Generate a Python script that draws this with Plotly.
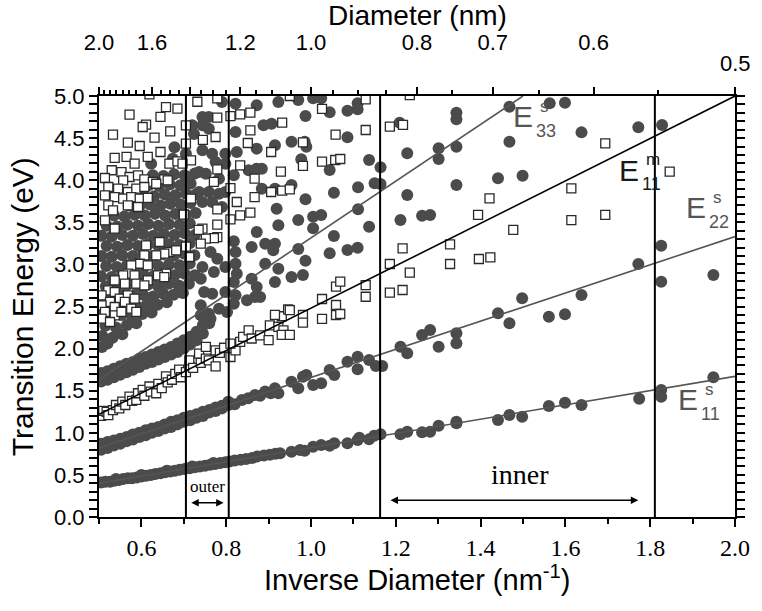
import plotly.graph_objects as go

# ---------------- semiconducting tubes (filled circles) ----------------
# E11 band, dense part at large diameter
e11s_dense = [(0.505,0.41),(0.515,0.42),(0.526,0.42),(0.536,0.43),(0.547,0.44),(0.557,0.45),(0.568,0.46),
              (0.578,0.46),(0.589,0.47),(0.600,0.48),(0.611,0.49),(0.622,0.50),(0.633,0.51),(0.645,0.52),
              (0.656,0.53),(0.668,0.54),(0.679,0.55),(0.690,0.56),(0.702,0.57),(0.714,0.58),(0.726,0.59),
              (0.738,0.60),(0.750,0.61),(0.762,0.62),(0.774,0.63),(0.786,0.64),(0.798,0.65),(0.808,0.66),
              (0.820,0.67),(0.834,0.68),(0.847,0.69),(0.861,0.70),(0.874,0.72),(0.889,0.73),(0.903,0.74),
              (0.916,0.75),(0.540,0.45),(0.600,0.50),(0.660,0.55),(0.720,0.60),(0.770,0.64)]
# E11 band, resolved tubes
e11s_sparse = [(0.927,0.757),(0.954,0.776),(0.974,0.796),(0.985,0.788),(1.005,0.835),(1.024,0.855),
               (1.044,0.847),(1.055,0.875),(1.086,0.875),(1.110,0.914),(1.114,0.942),(1.137,0.922),
               (1.149,0.966),(1.164,0.982),(1.211,0.982),(1.227,1.013),(1.262,1.006),(1.281,1.013),
               (1.301,1.084),(1.343,1.113),(1.343,1.130),(1.441,1.152),(1.468,1.211),(1.498,1.191),
               (1.561,1.318),(1.599,1.358),(1.638,1.330),(1.774,1.405),(1.826,1.508),(1.826,1.429),
               (1.949,1.659)]
# E22 band
e22s_dense = [(0.505,0.80),(0.505,0.87),(0.52,0.82),(0.52,0.89),(0.535,0.85),(0.535,0.91),(0.55,0.87),
              (0.55,0.93),(0.565,0.90),(0.565,0.95),(0.58,0.92),(0.58,0.98),(0.595,0.95),(0.595,1.00),
              (0.61,0.97),(0.61,1.03),(0.625,1.00),(0.625,1.05),(0.64,1.02),(0.64,1.07),(0.655,1.05),
              (0.655,1.10),(0.67,1.07),(0.67,1.13),(0.685,1.10),(0.685,1.15),(0.70,1.13),(0.70,1.18),
              (0.715,1.15),(0.715,1.20),(0.73,1.18),(0.73,1.22),(0.745,1.20),(0.745,1.25),(0.76,1.24),
              (0.76,1.27),(0.775,1.26),(0.775,1.30),(0.79,1.29),(0.79,1.32),(0.805,1.33),(0.805,1.37),
              (0.82,1.34),(0.837,1.39),(0.852,1.41),(0.868,1.45),(0.88,1.44),(0.892,1.49),(0.905,1.47),
              (0.915,1.53)]
e22s_sparse = [(0.923,1.469),(0.954,1.607),(0.970,1.528),(0.981,1.666),(0.989,1.686),(1.005,1.568),
               (1.024,1.588),(1.044,1.746),(1.055,1.686),(1.086,1.844),(1.110,1.904),(1.110,1.754),
               (1.137,1.865),(1.153,1.793),(1.168,1.793),(1.211,2.023),(1.227,1.944),(1.262,2.162),
               (1.281,2.221),(1.301,2.023),(1.343,2.182),(1.343,2.063),(1.441,2.419),(1.468,2.300),
               (1.498,2.597),(1.561,2.379),(1.599,2.407),(1.638,2.637),(1.772,3.005),(1.826,3.222),
               (1.826,2.795),(1.949,2.874)]
# E33 band at large diameter
e33s_band = [(0.505,1.61),(0.505,1.71),(0.52,1.63),(0.52,1.73),(0.535,1.66),(0.535,1.76),(0.55,1.69),
             (0.55,1.79),(0.565,1.72),(0.565,1.82),(0.58,1.75),(0.58,1.84),(0.595,1.78),(0.595,1.88),
             (0.61,1.82),(0.61,1.90),(0.625,1.84),(0.625,1.93),(0.64,1.87),(0.64,1.96),(0.655,1.90),
             (0.655,1.99),(0.67,1.93),(0.67,2.02),(0.685,1.96),(0.685,2.06),(0.70,2.00),(0.70,2.10),
             (0.715,2.05),(0.715,2.14),(0.73,2.10),(0.73,2.20),(0.745,2.18),(0.745,2.28),(0.76,2.30)]
# higher transitions, crowded at large diameter
upper_mass = [(0.507,2.02),(0.52,2.06),(0.508,2.15),(0.532,2.13),(0.555,2.17),
              (0.515,2.27),(0.54,2.25),(0.566,2.28),(0.588,2.30),
              (0.505,2.39),(0.528,2.37),(0.553,2.40),(0.578,2.38),(0.602,2.41),(0.624,2.43),
              (0.517,2.50),(0.541,2.49),(0.566,2.52),(0.59,2.50),(0.614,2.53),(0.638,2.52),(0.66,2.55),
              (0.506,2.62),(0.53,2.61),(0.555,2.63),(0.58,2.62),(0.604,2.64),(0.628,2.62),(0.652,2.65),
              (0.676,2.64),(0.698,2.66),
              (0.516,2.74),(0.542,2.73),(0.565,2.75),(0.59,2.74),(0.616,2.76),(0.64,2.74),(0.664,2.77),
              (0.688,2.75),(0.712,2.77),
              (0.505,2.86),(0.53,2.85),(0.555,2.87),(0.58,2.86),(0.605,2.88),(0.628,2.86),(0.653,2.88),
              (0.678,2.87),(0.702,2.89),(0.726,2.87),
              (0.517,2.98),(0.542,2.97),(0.566,2.99),(0.591,2.98),(0.616,3.00),(0.64,2.98),(0.665,3.00),
              (0.69,2.99),(0.714,3.01),
              (0.506,3.10),(0.53,3.09),(0.555,3.11),(0.58,3.10),(0.604,3.12),(0.628,3.10),(0.652,3.12),
              (0.677,3.11),(0.70,3.13),(0.725,3.11),
              (0.518,3.22),(0.543,3.21),(0.567,3.23),(0.592,3.22),(0.616,3.24),(0.64,3.22),(0.665,3.24),
              (0.69,3.23),(0.714,3.25),
              (0.506,3.34),(0.53,3.33),(0.555,3.35),(0.58,3.34),(0.604,3.36),(0.628,3.34),(0.653,3.36),
              (0.678,3.35),(0.702,3.37),(0.726,3.35),
              (0.518,3.46),(0.543,3.45),(0.567,3.47),(0.592,3.46),(0.616,3.48),(0.64,3.46),(0.665,3.48),
              (0.69,3.47),(0.714,3.49),
              (0.535,3.58),(0.56,3.57),(0.584,3.59),(0.608,3.58),(0.632,3.60),(0.656,3.58),(0.68,3.60),
              (0.705,3.59),(0.728,3.61),
              (0.57,3.70),(0.595,3.69),(0.62,3.71),(0.645,3.70),(0.668,3.72),(0.693,3.71),(0.716,3.73),
              (0.605,3.82),(0.63,3.81),(0.655,3.83),(0.68,3.82),(0.705,3.84),(0.728,3.83),
              (0.617,3.94),(0.642,3.93),(0.667,3.95),(0.692,3.94),(0.716,3.96),
              (0.627,4.06),(0.652,4.05),(0.677,4.07),(0.702,4.06),(0.726,4.08),
              (0.623,4.196),(0.674,4.255),(0.705,4.315),(0.678,4.39),(0.724,4.55),(0.720,4.652)]
# resolved higher transitions
upper_sparse = [(0.790,4.929),(0.822,4.909),(0.872,4.890),(0.923,4.929),(0.744,4.751),(0.759,4.751),
                (0.744,4.652),(0.759,4.612),(0.822,4.572),(0.888,4.652),(0.907,4.671),(0.872,4.375),
                (0.915,4.414),(0.744,4.355),(0.767,4.315),(0.798,4.315),(0.825,4.335),(0.775,4.216),
                (0.798,4.196),(0.853,4.118),(0.872,4.137),(0.884,4.137),(0.736,4.097),(0.752,4.077),
                (0.783,4.018),(0.818,4.058),(0.884,3.899),(0.915,3.899),(0.736,3.860),(0.759,3.860),
                (0.783,3.840),(0.798,3.860),(0.744,3.741),(0.767,3.741),(0.790,3.682),(0.919,3.662),
                (0.923,3.464),(0.872,3.385),(0.860,3.207),(0.892,3.246),(0.915,3.246),(0.911,3.167),
                (0.818,3.274),(0.822,3.147),(0.763,3.147),(0.779,3.068),(0.892,3.008),(0.923,2.949),
                (0.954,2.850),(0.915,2.791),(0.822,3.008),(0.825,2.890),(0.798,2.969),(0.771,2.910),
                (0.744,2.969),(0.740,2.830),(0.818,2.791),(0.860,2.830),(0.872,2.732),(0.880,2.613),
                (0.868,2.613),(0.849,2.573),(0.822,2.633),(0.818,2.533),(0.798,2.672),(0.767,2.652),
                (0.748,2.672),(0.783,2.474),(0.802,2.435),(0.759,2.415),(0.740,2.514),(0.763,2.355),
                (0.740,2.395),
                (0.970,4.952),(1.005,4.972),(1.024,4.972),(1.044,4.806),(1.086,4.825),(1.110,4.842),
                (1.110,4.913),(0.987,4.762),(1.086,4.509),(0.954,4.457),(0.985,4.457),(0.989,4.398),
                (0.977,4.248),(1.044,4.121),(1.137,4.240),(1.164,4.153),(0.954,3.943),(1.054,3.852),
                (1.111,3.916),(1.150,3.963),(1.164,3.955),(0.987,3.773),(0.970,3.527),(1.005,3.567),
                (1.024,3.587),(1.005,3.429),(1.111,3.654),(1.137,3.448),(1.054,3.337),(0.970,3.183),
                (1.044,3.132),(1.086,3.171),(1.110,3.198),(0.987,3.044),(0.981,2.874),(1.227,4.319),
                (1.301,4.379),(1.301,4.252),(1.343,4.802),(1.343,4.723),(1.343,4.398),(1.227,3.824),
                (1.343,3.943),(1.211,3.527),(1.262,3.578),(1.281,3.587),(1.441,4.022),(1.209,4.683),
                (1.468,4.873),(1.563,4.913),(1.599,4.921),(1.468,4.457),(1.638,4.568),(1.772,4.628),
                (1.828,4.656),(1.499,4.054)]

# ---------------- metallic tubes (open squares) ----------------
e11m_pts = [(0.505,1.20),(0.51,1.26),(0.518,1.25),(0.522,1.21),(0.533,1.27),(0.54,1.33),(0.548,1.29),
            (0.555,1.37),(0.562,1.33),(0.572,1.43),(0.578,1.38),(0.588,1.39),(0.592,1.47),(0.603,1.51),
            (0.607,1.44),(0.619,1.55),(0.622,1.49),(0.635,1.47),(0.64,1.58),(0.648,1.53),(0.658,1.67),
            (0.662,1.60),(0.672,1.63),(0.68,1.70),(0.689,1.75),(0.693,1.66),(0.705,1.72),(0.713,1.79),
            (0.713,1.86),(0.722,1.77),(0.736,1.94),(0.74,1.83),(0.752,2.02),(0.752,1.88),(0.759,1.86),
            (0.775,1.98),(0.775,1.79),(0.785,1.95),(0.795,2.01),(0.81,1.90),(0.822,1.98),(0.833,2.08),
            (0.81,2.06),(0.84,2.14),(0.853,2.217),(0.860,2.12),(0.880,2.158),(0.900,2.10),(0.903,2.277),
            (0.923,2.257),(0.935,2.217),(0.931,2.162),(0.950,2.162),(0.931,2.384),(0.946,2.466),
            (0.915,2.40),(0.950,2.458),(0.981,2.399),(0.981,2.308),(1.026,2.589),(1.026,2.352),
            (1.059,2.518),(1.059,2.399),(1.069,2.411),(1.059,2.735),(1.069,2.795),(1.129,2.755),
            (1.129,2.616),(1.186,2.664),(1.216,2.696),(1.216,3.191),(1.328,3.239),(1.186,3.005),
            (1.233,2.902),(1.328,3.005),(1.396,3.064),(1.423,3.084)]
upper_metal = [(0.619,5.02),(0.658,4.869),(0.685,4.849),(0.572,4.778),(0.645,4.751),(0.611,4.659),
               (0.603,4.632),(0.533,4.541),(0.631,4.505),(0.668,4.580),(0.705,4.652),(0.568,4.446),
               (0.596,4.406),(0.745,4.480),(0.705,4.434),(0.645,4.335),(0.537,4.264),(0.565,4.276),
               (0.584,4.196),(0.615,4.276),(0.666,4.196),(0.685,4.224),(0.717,4.236),(0.697,4.196),
               (0.530,4.118),(0.553,4.097),(0.514,4.026),(0.572,4.038),(0.592,4.058),(0.607,4.010),
               (0.557,3.999),(0.627,3.979),(0.654,4.010),(0.662,3.999),(0.635,3.958),(0.522,3.919),
               (0.545,3.899),(0.568,3.860),(0.588,3.899),(0.607,3.919),(0.514,3.820),(0.537,3.800),
               (0.557,3.781),(0.576,3.800),(0.596,3.781),(0.615,3.789),(0.717,3.781),(0.522,3.702),
               (0.568,3.702),(0.533,3.642),(0.592,3.682),(0.732,4.932),(0.779,4.972),
               (0.779,4.742),(0.810,4.762),(0.833,4.782),(0.857,4.802),(0.857,4.592),(0.775,4.513),
               (0.851,4.442),(0.906,4.335),(0.833,4.177),(0.779,4.129),(0.867,4.018),(0.771,3.979),
               (0.810,3.907),(0.867,3.800),(0.906,3.860),(0.825,3.741),(0.779,3.654),(0.833,3.583),
               (0.857,3.614),(0.810,3.535),(0.779,3.472),(0.744,3.424),(0.779,3.325),(0.771,3.313),
               (0.752,3.305),(0.740,3.246),(0.700,3.590),(0.735,3.410),(0.705,3.210),
               (0.514,3.524),(0.537,3.424),(0.643,3.266),(0.666,3.147),(0.682,3.167),(0.654,3.127),
               (0.635,3.108),(0.713,3.088),(0.611,3.227),(0.607,3.108),(0.596,3.008),(0.615,2.989),
               (0.576,2.989),(0.568,2.890),(0.584,2.870),(0.557,2.870),(0.537,2.811),(0.561,2.771),
               (0.588,2.771),(0.615,2.811),(0.607,2.752),(0.658,2.890),(0.639,2.870),(0.654,2.850),
               (0.522,2.692),(0.537,2.672),(0.506,2.633),(0.549,2.593),(0.526,2.554),(0.506,2.514),
               (0.537,2.494),(0.568,2.633),(0.584,2.593),(0.561,2.554),(0.576,2.474),(0.514,2.435),
               (0.537,2.395),(0.506,2.355),(0.526,2.316),(0.553,2.435),(0.588,2.435),
               (0.950,5.000),(1.129,4.960),(1.026,4.846),(0.932,4.683),(1.129,4.596),(1.186,4.636),
               (1.217,4.656),(1.058,4.541),(0.981,4.450),(1.026,4.220),(1.057,4.240),(1.069,4.252),
               (0.981,4.169),(0.929,4.101),(0.932,3.875),(0.950,3.892),(1.233,5.010),
               (1.694,4.438),(1.846,4.101),(1.421,3.785),(1.394,3.587),(1.614,3.904),(1.477,3.409),
               (1.614,3.527),(1.694,3.587)]

# ---------------- linear guides (endpoints) ----------------
fit_e11s_x, fit_e11s_y = [0.5, 2.0], [0.40, 1.67]
fit_e22s_x, fit_e22s_y = [0.5, 2.0], [0.82, 3.33]
fit_e33s_x, fit_e33s_y = [0.5, 1.5], [1.63, 5.0]
fit_e11m_x, fit_e11m_y = [0.5, 2.0], [1.22, 5.0]

# boundaries of the outer / inner tube windows (inverse diameter)
window_edges = [0.705, 0.806, 1.163, 1.811]

# ticks
bottom_ticks = [0.6, 0.8, 1.0, 1.2, 1.4, 1.6, 1.8, 2.0]
bottom_minor = [0.5, 0.7, 0.9, 1.1, 1.3, 1.5, 1.7, 1.9]
left_ticks = [0.0, 0.5, 1.0, 1.5, 2.0, 2.5, 3.0, 3.5, 4.0, 4.5, 5.0]
top_major_d = [2.0, 1.6, 1.4, 1.2, 1.0, 0.8, 0.7, 0.6, 0.5]
top_major_lbl = ["2.0", "1.6", "", "1.2", "1.0", "0.8", "0.7", "0.6", ""]
top_minor_d = [1.95, 1.9, 1.85, 1.8, 1.75, 1.7, 1.65, 1.55, 1.5, 1.45, 1.35, 1.3, 1.25,
               1.15, 1.1, 1.05, 0.95, 0.9, 0.85, 0.75, 0.65, 0.55]

SANS = "Liberation Sans, Arial, sans-serif"
SERIF = "Liberation Serif, Times New Roman, serif"
DOT = "#4b4b4b"
GUIDE = "#555555"


def unzip(pts):
    return [p[0] for p in pts], [p[1] for p in pts]


semi = e11s_dense + e11s_sparse + e22s_dense + e22s_sparse + e33s_band + upper_mass + upper_sparse
metal = e11m_pts + upper_metal
sx, sy = unzip(semi)
mx, my = unzip(metal)

fig = go.Figure()
fig.add_trace(go.Scatter(x=sx, y=sy, mode="markers", hoverinfo="skip",
                         marker=dict(symbol="circle", size=12, color=DOT, line=dict(width=0))))
fig.add_trace(go.Scatter(x=mx, y=my, mode="markers", hoverinfo="skip",
                         marker=dict(symbol="square", size=9, color="white",
                                     line=dict(width=1.3, color="#2a2a2a"))))
for fx, fy, col in [(fit_e11s_x, fit_e11s_y, GUIDE), (fit_e22s_x, fit_e22s_y, GUIDE),
                    (fit_e33s_x, fit_e33s_y, GUIDE), (fit_e11m_x, fit_e11m_y, "black")]:
    fig.add_trace(go.Scatter(x=fx, y=fy, mode="lines", hoverinfo="skip",
                             line=dict(color=col, width=1.6)))
# carrier trace for the diameter axis
fig.add_trace(go.Scatter(x=[0.5, 2.0], y=[None, None], xaxis="x2", mode="markers",
                         hoverinfo="skip", showlegend=False))

for xe in window_edges:
    fig.add_shape(type="line", x0=xe, x1=xe, y0=0, y1=5, xref="x", yref="y",
                  line=dict(color="black", width=2))

fig.update_layout(
    width=762, height=611, margin=dict(l=99, r=21, t=96, b=94),
    plot_bgcolor="white", paper_bgcolor="white", showlegend=False,
    xaxis=dict(range=[0.5, 2.0], showgrid=False, zeroline=False, showline=True, linecolor="black",
               linewidth=2, mirror=True, ticks="outside", ticklen=8, tickwidth=1.5, tickcolor="black",
               tickmode="array", tickvals=bottom_ticks, ticktext=[f"{v:.1f}" for v in bottom_ticks],
               tickfont=dict(family=SERIF, size=24, color="black"),
               minor=dict(tickmode="array", tickvals=bottom_minor, ticks="outside", ticklen=5,
                          tickwidth=1.5, tickcolor="black")),
    xaxis2=dict(range=[0.5, 2.0], overlaying="x", side="top", showgrid=False, zeroline=False,
                showline=False, ticks="outside", ticklen=8, tickwidth=1.5, tickcolor="black",
                tickmode="array", tickvals=[1 / d for d in top_major_d], ticktext=top_major_lbl,
                tickfont=dict(family=SANS, size=22, color="black"), ticklabelstandoff=28,
                minor=dict(tickmode="array", tickvals=[1 / d for d in top_minor_d], ticks="outside",
                           ticklen=5, tickwidth=1.5, tickcolor="black")),
    yaxis=dict(range=[0, 5], showgrid=False, zeroline=False, showline=True, linecolor="black",
               linewidth=2, mirror="allticks", ticks="outside", ticklen=8, tickwidth=1.5,
               tickcolor="black", tickmode="array", tickvals=left_ticks,
               ticktext=[f"{v:.1f}" for v in left_ticks],
               tickfont=dict(family=SANS, size=22, color="black"),
               minor=dict(dtick=0.1, ticks="outside", ticklen=4, tickwidth=1.5, tickcolor="black")),
)

ann = []
# axis titles
ann.append(dict(text="Inverse Diameter (nm<sup>-1</sup>)", xref="paper", yref="paper", x=0.5, y=-0.145,
                xanchor="center", yanchor="middle", showarrow=False,
                font=dict(family=SANS, size=29, color="black")))
ann.append(dict(text="Diameter (nm)", xref="paper", yref="paper", x=0.5, y=1.192,
                xanchor="center", yanchor="middle", showarrow=False,
                font=dict(family=SANS, size=28, color="black")))
ann.append(dict(text="Transition Energy (eV)", xref="paper", yref="paper", x=-0.12, y=0.5,
                xanchor="center", yanchor="middle", textangle=-90, showarrow=False,
                font=dict(family=SANS, size=30, color="black")))
ann.append(dict(text="0.5", xref="x", yref="paper", x=2.0, y=1.078, xanchor="center",
                yanchor="middle", showarrow=False, font=dict(family=SANS, size=22, color="black")))
# band labels
for ex, ey, sup, sub, col in [(1.50, 4.76, "s", "33", GUIDE), (1.75, 4.12, "m", "11", "#1a1a1a"),
                              (1.909, 3.67, "s", "22", GUIDE), (1.89, 1.39, "s", "11", GUIDE)]:
    ann.append(dict(text="E", x=ex, y=ey, xref="x", yref="y", showarrow=False,
                    xanchor="center", yanchor="middle", font=dict(family=SANS, size=30, color=col)))
    ann.append(dict(text=sup, x=ex + 0.035, y=ey + 0.12, xref="x", yref="y", showarrow=False,
                    xanchor="left", yanchor="middle", font=dict(family=SANS, size=17, color=col)))
    ann.append(dict(text=sub, x=ex + 0.025, y=ey - 0.17, xref="x", yref="y", showarrow=False,
                    xanchor="left", yanchor="middle", font=dict(family=SANS, size=18, color=col)))
# window markers
ann.append(dict(text="outer", x=0.756, y=0.36, xref="x", yref="y", showarrow=False,
                xanchor="center", yanchor="middle", font=dict(family=SERIF, size=17, color="black")))
ann.append(dict(text="", x=0.794, y=0.17, ax=0.714, ay=0.17, xref="x", yref="y", axref="x", ayref="y",
                showarrow=True, arrowside="end+start", arrowhead=2, arrowsize=1, arrowwidth=1.5,
                arrowcolor="black"))
ann.append(dict(text="inner", x=1.493, y=0.50, xref="x", yref="y", showarrow=False,
                xanchor="center", yanchor="middle", font=dict(family=SERIF, size=28, color="black")))
ann.append(dict(text="", x=1.772, y=0.20, ax=1.184, ay=0.20, xref="x", yref="y", axref="x", ayref="y",
                showarrow=True, arrowside="end+start", arrowhead=2, arrowsize=1, arrowwidth=1.5,
                arrowcolor="black"))
fig.update_layout(annotations=ann)

fig.write_html("out.html")
